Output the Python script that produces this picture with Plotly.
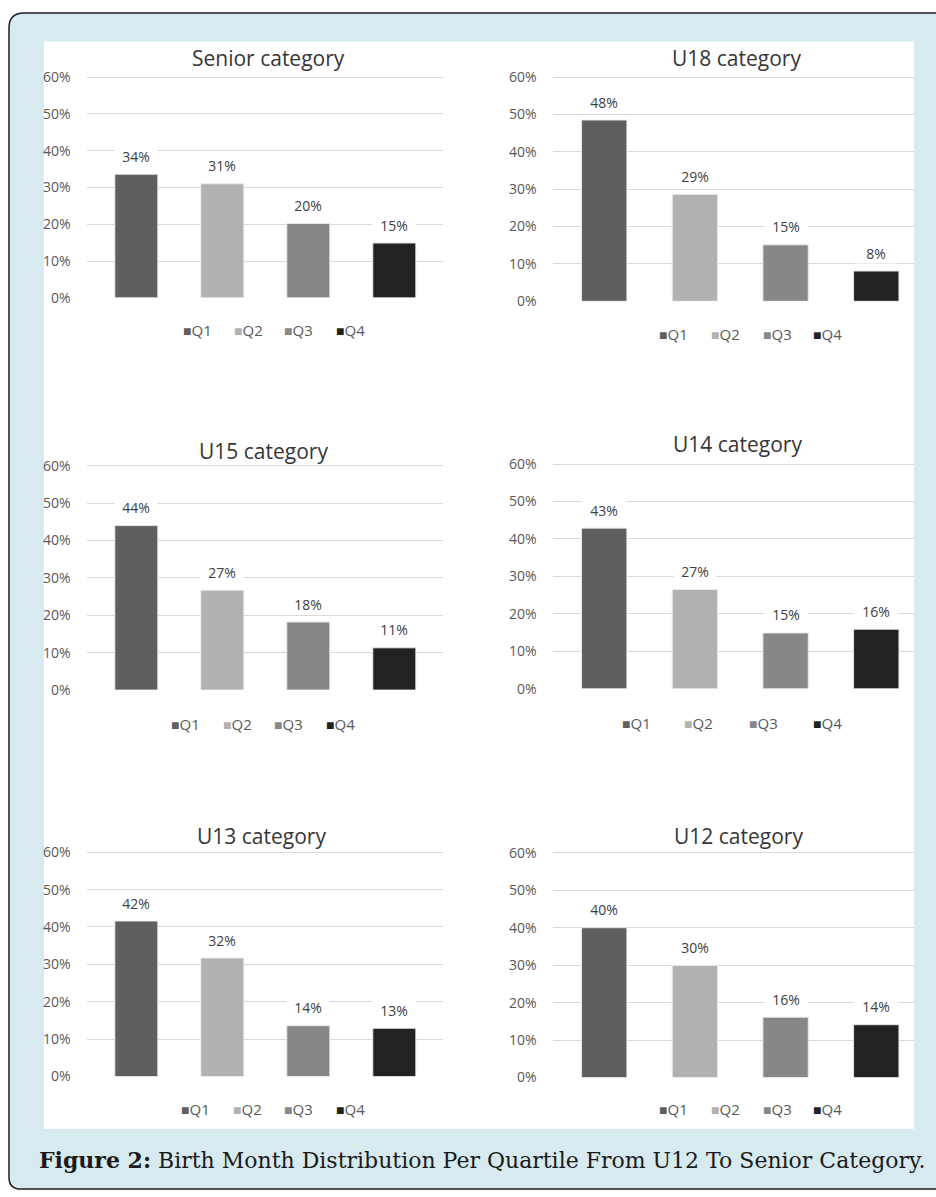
import plotly.graph_objects as go

W, H = 936, 1197

# ---------------- data ----------------
quartiles = ["Q1", "Q2", "Q3", "Q4"]
categories = ["Senior category", "U18 category", "U15 category",
              "U14 category", "U13 category", "U12 category"]

senior_vals = [33.6, 31.0, 20.2, 14.9]
u18_vals = [48.5, 28.6, 15.1, 8.1]
u15_vals = [44.0, 26.7, 18.2, 11.3]
u14_vals = [42.9, 26.5, 14.9, 15.9]
u13_vals = [41.6, 31.7, 13.6, 12.9]
u12_vals = [40.0, 29.9, 16.1, 14.1]

senior_lbl = ["34%", "31%", "20%", "15%"]
u18_lbl = ["48%", "29%", "15%", "8%"]
u15_lbl = ["44%", "27%", "18%", "11%"]
u14_lbl = ["43%", "27%", "15%", "16%"]
u13_lbl = ["42%", "32%", "14%", "13%"]
u12_lbl = ["40%", "30%", "16%", "14%"]

y_ticks = [0, 10, 20, 30, 40, 50, 60]
y_tick_text = ["0%", "10%", "20%", "30%", "40%", "50%", "60%"]
caption = "<b>Figure 2:</b> Birth Month Distribution Per Quartile From U12 To Senior Category."

values = [senior_vals, u18_vals, u15_vals, u14_vals, u13_vals, u12_vals]
labels = [senior_lbl, u18_lbl, u15_lbl, u14_lbl, u13_lbl, u12_lbl]

# ---------------- styles / layout geometry (pixels) ----------------
colors = ["#5f5f5f", "#b1b1b1", "#878787", "#222222"]
BLUE = "#d6eaf0"
GRID = "#d9d9d9"
TICK_COL = "#595959"
FONT = "Open Sans"

LEFT_X = (86.7, 443.0, -0.577, 3.566)
RIGHT_X = (552.7, 914.0, -0.568, 3.416)
panels = [
    dict(xg=LEFT_X, yt=71.0, yb=294.8, tx=268.5, ty=51.7, ly=327.0, lx=[181.7, 233.3, 283.3, 335.0]),
    dict(xg=RIGHT_X, yt=71.0, yb=298.3, tx=736.7, ty=51.7, ly=331.7, lx=[658.3, 710.0, 761.7, 811.7]),
    dict(xg=LEFT_X, yt=465.0, yb=692.3, tx=263.3, ty=450.0, ly=726.7, lx=[170.0, 222.3, 273.3, 325.0]),
    dict(xg=RIGHT_X, yt=463.3, yb=691.0, tx=737.0, ty=443.3, ly=726.0, lx=[620.7, 683.3, 747.7, 811.7]),
    dict(xg=LEFT_X, yt=856.7, yb=1084.0, tx=261.7, ty=840.7, ly=1116.7, lx=[180.0, 232.3, 283.3, 335.0]),
    dict(xg=RIGHT_X, yt=857.3, yb=1085.0, tx=738.3, ty=840.0, ly=1117.0, lx=[658.3, 710.0, 761.7, 811.7]),
]


def fx(x):
    return x / W


def fy(y):
    return 1 - y / H


fig = go.Figure()
annotations = []
layout_axes = {}

for i, (p, vals, lbls, title) in enumerate(zip(panels, values, labels, categories)):
    n = i + 1
    xa = "x" if n == 1 else f"x{n}"
    ya = "y" if n == 1 else f"y{n}"
    x0, x1, r0, r1 = p["xg"]
    px_per_10 = (p["yb"] - p["yt"]) / 6.0
    top_ext = 3.0  # extend a little so the 60% grid line is drawn inside the plot
    fig.add_trace(go.Bar(
        x=quartiles, y=vals, xaxis=xa, yaxis=ya,
        marker=dict(color=colors, line=dict(color="rgba(235,235,235,0.9)", width=1)),
        width=0.5, showlegend=False, hoverinfo="x+y",
    ))
    layout_axes["xaxis" if n == 1 else f"xaxis{n}"] = dict(
        domain=[fx(x0), fx(x1)], anchor=ya, type="category",
        range=[r0, r1], showticklabels=False, showgrid=False,
        zeroline=False, showline=False, ticks="", fixedrange=True,
    )
    layout_axes["yaxis" if n == 1 else f"yaxis{n}"] = dict(
        domain=[fy(p["yb"]), fy(p["yt"] - top_ext)], anchor=xa,
        range=[0, 60 + top_ext / px_per_10 * 10],
        tickvals=y_ticks, ticktext=y_tick_text, showgrid=True, gridcolor=GRID,
        gridwidth=1, zeroline=False, showline=False, ticks="",
        ticklabelstandoff=15,
        tickfont=dict(family=FONT, size=14, color=TICK_COL), fixedrange=True,
    )
    # data labels with white background (Excel style)
    for q, v, t in zip(quartiles, vals, lbls):
        annotations.append(dict(
            x=q, y=v, xref=xa, yref=ya, text=t, showarrow=False,
            yanchor="middle", yshift=18, bgcolor="white", width=42,
            borderpad=0, font=dict(family=FONT, size=14, color="#404040"),
        ))
    # subplot title
    annotations.append(dict(
        x=fx(p["tx"]), y=fy(p["ty"]), xref="paper", yref="paper",
        text=title, showarrow=False, xanchor="center", yanchor="middle",
        font=dict(family=FONT, size=21, color="#363636"),
    ))
    # legend entries
    for q, c, lx in zip(quartiles, colors, p["lx"]):
        annotations.append(dict(
            x=fx(lx - 1), y=fy(p["ly"]), xref="paper", yref="paper",
            text=f"<span style='color:{c};font-size:14px'>■</span>{q}",
            showarrow=False, xanchor="left", yanchor="middle",
            font=dict(family=FONT, size=15, color=TICK_COL),
        ))

annotations.append(dict(
    x=fx(37), y=fy(1169), xref="paper", yref="paper", text=caption,
    showarrow=False, xanchor="left", yanchor="middle",
    font=dict(family="DejaVu Serif", size=22, color="#1a1a1a"),
))

# background frame: rounded blue box with dark border, white chart panel
top = 6.0
frame_path = (f"M {fx(960)},{fy(top)} L {fx(24)},{fy(top)} Q {fx(9)},{fy(top)} {fx(9)},{fy(top + 15)} "
              f"L {fx(9)},{fy(1186)} Q {fx(9)},{fy(1198)} {fx(21)},{fy(1198)} L {fx(960)},{fy(1198)} Z")
shapes = [
    dict(type="path", xref="paper", yref="paper", path=frame_path,
         fillcolor=BLUE, line=dict(color="#1c1c1c", width=1.5), layer="below"),
    dict(type="rect", xref="paper", yref="paper", x0=fx(44), x1=fx(914),
         y0=fy(1137), y1=fy(35), fillcolor="white", line=dict(width=0), layer="below"),
]

fig.update_layout(
    width=W, height=H, margin=dict(l=0, r=0, t=0, b=0),
    paper_bgcolor="white", plot_bgcolor="rgba(0,0,0,0)",
    barmode="overlay", showlegend=False,
    annotations=annotations, shapes=shapes,
    font=dict(family=FONT),
    **layout_axes,
)

fig.write_html("out.html", config={"displayModeBar": False})
